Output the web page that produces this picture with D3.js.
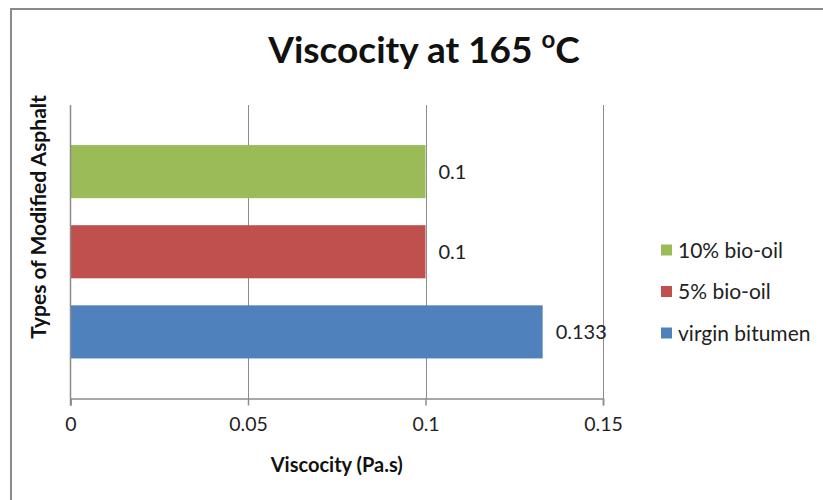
<!DOCTYPE html>
<html>
<head>
<meta charset="utf-8">
<script src="https://cdn.jsdelivr.net/npm/d3@7"></script>
<style>
  html, body { margin: 0; padding: 0; background: #fff; }
  svg { display: block; font-family: Lato, "Open Sans", sans-serif; }
</style>
</head>
<body>
<svg id="chart" width="823" height="500"></svg>
<script>
// Viscosity of modified asphalt binders at 165 °C
const series = ["10% bio-oil", "5% bio-oil", "virgin bitumen"];
const values = [0.1, 0.1, 0.133];
const valueLabels = ["0.1", "0.1", "0.133"];
const colors = ["#9BBB59", "#C0504D", "#4F81BD"];
const xTicks = [0, 0.05, 0.1, 0.15];
const xTickLabels = ["0", "0.05", "0.1", "0.15"];

const svg = d3.select("#chart");
const W = 823, H = 500;

// chart frame
svg.append("path")
  .attr("d", `M11,${H} L11,9 L${W},9`)
  .attr("fill", "none")
  .attr("stroke", "#8a8a8a")
  .attr("stroke-width", 2);

const plot = { left: 70.5, right: 603, top: 105, bottom: 398.5 };

const x = d3.scaleLinear().domain([0, 0.15]).range([plot.left, plot.right]);
const y = d3.scaleBand().domain(series).range([plot.top, plot.bottom])
  .paddingInner(0.3375).paddingOuter(0.5);

// vertical gridlines
svg.append("g").selectAll("line")
  .data(xTicks.slice(1))
  .join("line")
  .attr("x1", d => Math.round(x(d)) + 0.5).attr("x2", d => Math.round(x(d)) + 0.5)
  .attr("y1", plot.top).attr("y2", plot.bottom)
  .attr("stroke", "#8c8c8c").attr("stroke-width", 1);

// bars
svg.append("g").selectAll("rect")
  .data(series)
  .join("rect")
  .attr("x", x(0))
  .attr("y", d => y(d))
  .attr("width", (d, i) => x(values[i]) - x(0))
  .attr("height", y.bandwidth())
  .attr("fill", (d, i) => colors[i]);

// value labels
svg.append("g").selectAll("text")
  .data(series)
  .join("text")
  .attr("x", (d, i) => x(values[i]) + 13)
  .attr("y", d => y(d) + y.bandwidth() / 2)
  .attr("dy", "0.36em")
  .attr("font-size", 20)
  .attr("fill", "#222")
  .text((d, i) => valueLabels[i]);

// value axis (category axis line at zero)
svg.append("line")
  .attr("x1", plot.left).attr("x2", plot.left)
  .attr("y1", plot.top).attr("y2", plot.bottom + 7)
  .attr("stroke", "#8c8c8c").attr("stroke-width", 1.5);

const xAxis = d3.axisBottom(x)
  .tickValues(xTicks)
  .tickFormat((d, i) => xTickLabels[i])
  .tickSize(7)
  .tickPadding(12);

const gx = svg.append("g")
  .attr("transform", `translate(0,${plot.bottom})`)
  .call(xAxis);
gx.select(".domain").attr("stroke", "#8c8c8c").attr("stroke-width", 1.5);
gx.selectAll(".tick line").attr("stroke", "#8c8c8c").attr("stroke-width", 1.5);
gx.selectAll(".tick text")
  .attr("font-size", 19.5)
  .attr("font-family", "Lato, 'Open Sans', sans-serif")
  .attr("fill", "#222");

// axis titles
svg.append("text")
  .attr("x", (plot.left + plot.right) / 2)
  .attr("y", 472)
  .attr("text-anchor", "middle")
  .attr("font-size", 20)
  .attr("font-weight", "bold")
  .attr("fill", "#111")
  .text("Viscocity (Pa.s)");

svg.append("text")
  .attr("transform", "translate(46,217) rotate(-90)")
  .attr("text-anchor", "middle")
  .attr("font-size", 21)
  .attr("font-weight", "bold")
  .attr("fill", "#111")
  .text("Types of Modified Asphalt");

// title
const title = svg.append("text")
  .attr("x", 424)
  .attr("y", 63)
  .attr("text-anchor", "middle")
  .attr("font-size", 37)
  .attr("font-weight", "bold")
  .attr("fill", "#111");
title.append("tspan").text("Viscocity at 165 ");
title.append("tspan").attr("dy", -15).attr("font-size", 24).text("o");
title.append("tspan").attr("dy", 15).text("C");

// legend
const legend = svg.append("g").selectAll("g")
  .data(series)
  .join("g")
  .attr("transform", (d, i) => `translate(661,${250 + i * 41.5})`);
legend.append("rect")
  .attr("x", 0).attr("y", -5.5)
  .attr("width", 11).attr("height", 11)
  .attr("fill", (d, i) => colors[i]);
legend.append("text")
  .attr("x", 17).attr("y", 0).attr("dy", "0.36em")
  .attr("font-size", 21)
  .attr("fill", "#222")
  .text(d => d);
</script>
</body>
</html>
